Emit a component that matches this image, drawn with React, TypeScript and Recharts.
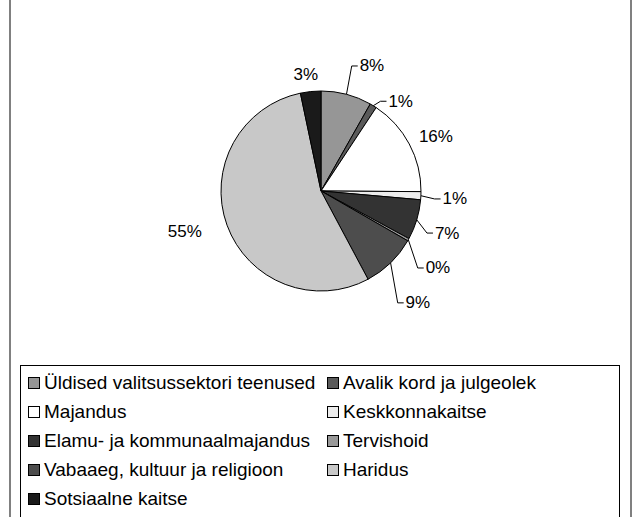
import { PieChart, Pie, Cell } from "recharts";

const categories = [
  "Üldised valitsussektori teenused",
  "Avalik kord ja julgeolek",
  "Majandus",
  "Keskkonnakaitse",
  "Elamu- ja kommunaalmajandus",
  "Tervishoid",
  "Vabaaeg, kultuur ja religioon",
  "Haridus",
  "Sotsiaalne kaitse",
];

// share of spending, percent
const shares = [8.2, 1.1, 15.8, 1.3, 6.5, 0.4, 8.9, 54.5, 3.3];

const fills = [
  "#969696",
  "#5a5a5a",
  "#ffffff",
  "#ececec",
  "#333333",
  "#999999",
  "#4d4d4d",
  "#c8c8c8",
  "#1a1a1a",
];

// label placement: distance from centre, clockwise nudge (deg), leader line
const labelLayout = [
  { r: 135, shift: 7.4, line: true },
  { r: 120, shift: 10.1, line: true },
  { r: 127, shift: 2.9, line: false },
  { r: 134, shift: 0.7, line: true },
  { r: 133, shift: 1.7, line: true },
  { r: 140, shift: 4.2, line: true },
  { r: 148, shift: 3.2, line: true },
  { r: 142, shift: 3.6, line: false },
  { r: 117, shift: -1.5, line: false },
];

const data = categories.map((name, i) => ({ name, value: shares[i] }));

const FONT = "'Liberation Sans', Arial, sans-serif";
const RAD = Math.PI / 180;

function renderLabel(props: any) {
  const { cx, cy, midAngle, outerRadius, index, value } = props;
  const lay = labelLayout[index];
  const a = (midAngle - lay.shift) * RAD;
  const x = cx + lay.r * Math.cos(a);
  const y = cy - lay.r * Math.sin(a);
  const text = `${Math.round(value)}%`;
  const halfW = text.length * 5.6;
  const px = cx + outerRadius * Math.cos(midAngle * RAD);
  const py = cy - outerRadius * Math.sin(midAngle * RAD);
  const left = x - halfW;
  return (
    <g key={`lbl-${index}`}>
      {lay.line && (
        <polyline
          points={`${px},${py} ${left - 9},${y} ${left - 3},${y}`}
          fill="none"
          stroke="#000"
          strokeWidth={1}
        />
      )}
      <text
        x={x}
        y={y}
        textAnchor="middle"
        dominantBaseline="central"
        fontFamily={FONT}
        fontSize={17}
        fill="#000"
      >
        {text}
      </text>
    </g>
  );
}

function LegendBox() {
  return (
    <div
      style={{
        position: "absolute",
        left: 20,
        top: 365,
        width: 600,
        height: 170,
        border: "1px solid #000",
        background: "#fff",
        boxSizing: "border-box",
        padding: "2px 0 0 7px",
        display: "grid",
        gridTemplateColumns: "299px 1fr",
        gridAutoRows: "29px",
        fontFamily: FONT,
        fontSize: 19,
        color: "#000",
      }}
    >
      {categories.map((name, i) => (
        <div
          key={name}
          style={{ display: "flex", alignItems: "center", whiteSpace: "nowrap" }}
        >
          <span
            style={{
              display: "inline-block",
              width: 10,
              height: 10,
              border: "1px solid #000",
              background: fills[i],
              marginRight: 4,
              flexShrink: 0,
            }}
          />
          {name}
        </div>
      ))}
    </div>
  );
}

export default function App() {
  return (
    <div
      style={{
        position: "absolute",
        left: 0,
        top: 0,
        width: 633,
        height: 517,
        overflow: "hidden",
        background: "#fff",
      }}
    >
      <div
        style={{
          position: "absolute",
          left: 9,
          top: -5,
          width: 619,
          height: 530,
          borderLeft: "2px solid #808080",
          borderRight: "2px solid #808080",
        }}
      />
      <div style={{ position: "absolute", left: 0, top: 0 }}>
        <PieChart
          width={633}
          height={360}
          margin={{ top: 0, right: 0, bottom: 0, left: 0 }}
        >
          <Pie
            data={data}
            dataKey="value"
            nameKey="name"
            cx={321}
            cy={191}
            outerRadius={100}
            startAngle={90}
            endAngle={-270}
            stroke="#000"
            strokeWidth={1}
            label={renderLabel}
            labelLine={false}
            isAnimationActive={false}
          >
            {data.map((entry, i) => (
              <Cell key={entry.name} fill={fills[i]} />
            ))}
          </Pie>
        </PieChart>
      </div>
      <LegendBox />
    </div>
  );
}
